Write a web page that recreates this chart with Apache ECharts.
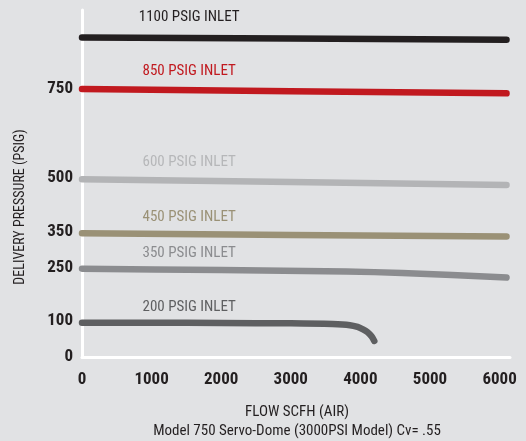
<!DOCTYPE html>
<html>
<head>
<meta charset="utf-8">
<script src="https://cdn.jsdelivr.net/npm/echarts@6/dist/echarts.min.js"></script>
<style>
html,body{margin:0;padding:0;background:#e1e2e4;}
#c{width:526px;height:441px;}
</style>
</head>
<body>
<div id="c"></div>
<script>
// ---- data ----
const seriesNames = ['1100 PSIG INLET', '850 PSIG INLET', '600 PSIG INLET', '450 PSIG INLET', '350 PSIG INLET', '200 PSIG INLET'];
const flowMain = [0, 3000, 6100];
const p1100 = [893, 890, 887];
const p850 = [749, 743, 737];
const p600 = [497, 489, 481];
const p450 = [346, 341, 337];
const flow350 = [0, 2000, 3800, 4600, 6100];
const p350 = [247, 243, 239, 235, 222];
const flow200 = [0, 1000, 2000, 3000, 3600, 3850, 3960, 4030, 4100, 4160, 4200];
const p200 = [96, 96, 95, 94, 92, 89, 84, 78, 70, 58, 45];
const xTicks = [0, 1000, 2000, 3000, 4000, 5000, 6000];
const yTicks = [0, 100, 250, 350, 500, 750];
const yTitle = 'DELIVERY PRESSURE (PSIG)';
const xTitle = 'FLOW SCFH (AIR)';
const subTitle = 'Model 750 Servo-Dome (3000PSI Model) Cv= .55';

// ---- styling ----
const FONT = '"Liberation Sans Narrow", "Roboto Condensed", "DejaVu Sans Condensed", "Liberation Sans", sans-serif';
const lineColors = ['#231f20', '#c1191f', '#b3b4b6', '#9a9176', '#8b8c8f', '#5e5f61'];
const textColors = ['#231f20', '#c1191f', '#b6b7b9', '#9a9176', '#8b8c8f', '#5e5f61'];
const labelDy = [-20, -18, -17, -15.5, -15, -15];
const labelX = 1540;

function pairs(xs, ys) { return xs.map((x, i) => [x, ys[i]]); }
const seriesData = [
  pairs(flowMain, p1100),
  pairs(flowMain, p850),
  pairs(flowMain, p600),
  pairs(flowMain, p450),
  pairs(flow350, p350),
  pairs(flow200, p200)
];

const chart = echarts.init(document.getElementById('c'), null, {renderer: 'canvas'});
chart.setOption({
  backgroundColor: '#e1e2e4',
  animation: false,
  grid: {left: 82, right: 16, top: 10, bottom: 84, containLabel: false},
  xAxis: {
    type: 'value', min: 0, max: 6150, interval: 1000,
    axisLine: {show: true, lineStyle: {color: '#ffffff', width: 3}},
    axisTick: {show: false},
    splitLine: {show: false},
    axisLabel: {customValues: xTicks, formatter: v => String(v), margin: 14, fontFamily: FONT, fontWeight: 'bold', fontSize: 17, color: '#231f20'}
  },
  yAxis: {
    type: 'value', min: 0, max: 970,
    axisLine: {show: true, lineStyle: {color: '#ffffff', width: 3}},
    axisTick: {show: false},
    splitLine: {show: false},
    axisLabel: {customValues: yTicks, formatter: v => String(v), margin: 9, fontFamily: FONT, fontWeight: 'bold', fontSize: 17, color: '#231f20'}
  },
  series: seriesData.map((d, i) => ({
    type: 'line',
    name: seriesNames[i],
    data: d,
    showSymbol: false,
    symbol: 'none',
    smooth: i === 5 ? 0.3 : (i === 4 ? 0.2 : false),
    clip: true,
    z: 1,
    lineStyle: {color: lineColors[i], width: 6.5, cap: 'round', join: 'round'}
  }))
});

const graphics = [
  {type: 'text', x: 20, y: 207, rotation: Math.PI / 2,
    style: {text: yTitle, fontFamily: FONT, fontSize: 14, fill: '#231f20', align: 'center', verticalAlign: 'middle'}},
  {type: 'text', x: 297, y: 412,
    style: {text: xTitle, fontFamily: FONT, fontSize: 15, fill: '#231f20', align: 'center', verticalAlign: 'middle'}},
  {type: 'text', x: 297, y: 431,
    style: {text: subTitle, fontFamily: FONT, fontSize: 15, fill: '#231f20', align: 'center', verticalAlign: 'middle'}}
];
seriesData.forEach((d, i) => {
  const p = chart.convertToPixel({gridIndex: 0}, [labelX, d[0][1]]);
  graphics.push({type: 'text', x: p[0], y: p[1] + labelDy[i],
    style: {text: seriesNames[i], fontFamily: FONT, fontSize: 15, fill: textColors[i], align: 'center', verticalAlign: 'middle'}});
});
chart.setOption({graphic: graphics});
</script>
</body>
</html>
